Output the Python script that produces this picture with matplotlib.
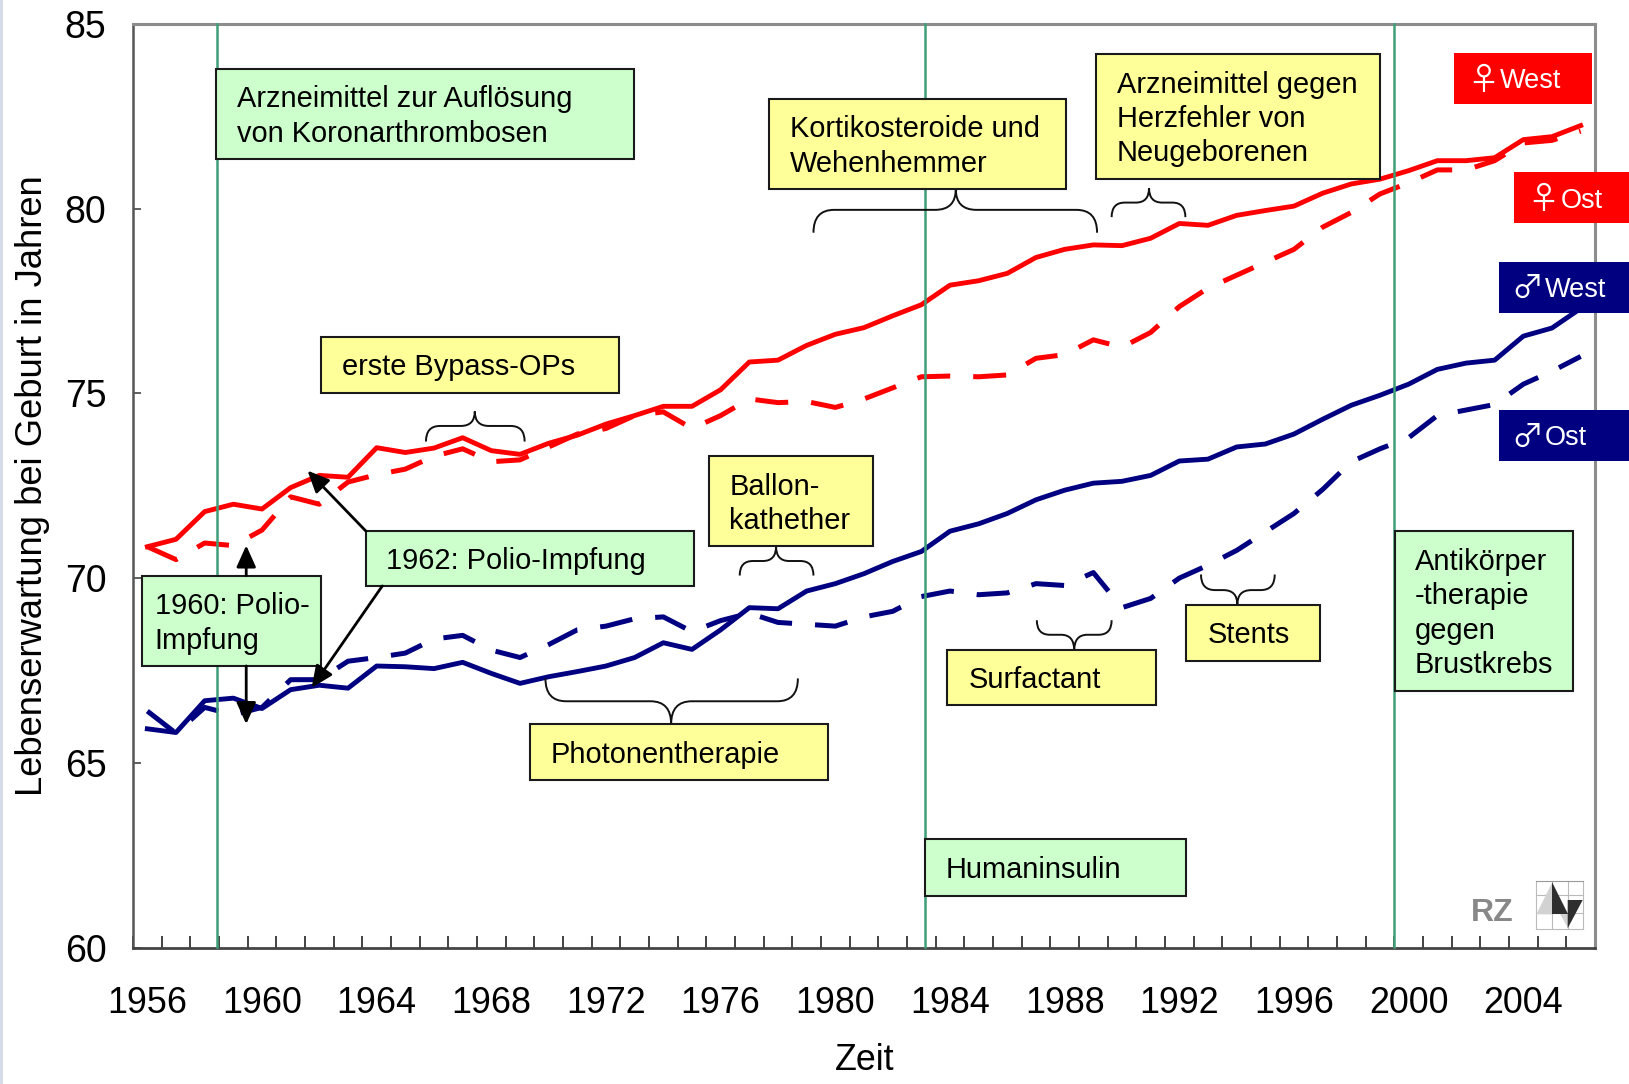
import matplotlib
matplotlib.use('Agg')
import matplotlib.pyplot as plt
import numpy as np
from matplotlib.patches import Rectangle, Polygon, PathPatch
from matplotlib.path import Path

plt.rcParams['font.family'] = ['Liberation Sans', 'DejaVu Sans']

years = np.arange(1956, 2007)
year_labels = np.arange(1956, 2005, 4)
west_f = [70.85, 71.05, 71.8, 72.0, 71.87, 72.45, 72.78, 72.73, 73.53, 73.4, 73.52, 73.8, 73.45,
          73.35, 73.65, 73.87, 74.17, 74.4, 74.65, 74.65, 75.1, 75.85, 75.9, 76.3, 76.6, 76.78,
          77.1, 77.4, 77.93, 78.05, 78.25, 78.68, 78.9, 79.02, 79.0, 79.2, 79.6, 79.55, 79.82,
          79.95, 80.07, 80.42, 80.67, 80.8, 81.03, 81.3, 81.3, 81.38, 81.87, 81.95, 82.25]
ost_f = [70.85, 70.5, 70.95, 70.88, 71.3, 72.2, 72.0, 72.6, 72.8, 72.95, 73.3, 73.5, 73.15,
         73.2, 73.55, 73.9, 74.05, 74.4, 74.5, 74.05, 74.4, 74.85, 74.75, 74.78, 74.62, 74.85,
         75.15, 75.45, 75.47, 75.45, 75.5, 75.95, 76.05, 76.45, 76.25, 76.65, 77.35, 77.85, 78.2,
         78.55, 78.9, 79.5, 79.9, 80.4, 80.7, 81.05, 81.05, 81.3, 81.78, 81.85, 82.1]
west_m = [65.92, 65.82, 66.68, 66.75, 66.47, 66.98, 67.1, 67.02, 67.62, 67.6, 67.55, 67.72, 67.42,
          67.15, 67.33, 67.47, 67.62, 67.85, 68.25, 68.07, 68.6, 69.2, 69.17, 69.65, 69.85, 70.12,
          70.45, 70.72, 71.27, 71.47, 71.75, 72.12, 72.38, 72.57, 72.62, 72.78, 73.17, 73.22, 73.55,
          73.63, 73.9, 74.3, 74.68, 74.95, 75.25, 75.65, 75.82, 75.9, 76.55, 76.77, 77.3]
ost_m = [66.4, 65.8, 66.5, 66.3, 66.5, 67.25, 67.25, 67.75, 67.85, 67.97, 68.35, 68.45, 68.05,
         67.85, 68.2, 68.6, 68.7, 68.9, 68.95, 68.55, 68.85, 69.05, 68.8, 68.75, 68.7, 68.95,
         69.1, 69.5, 69.65, 69.55, 69.6, 69.85, 69.8, 70.15, 69.2, 69.45, 70.0, 70.35, 70.75,
         71.25, 71.75, 72.4, 73.15, 73.5, 73.8, 74.4, 74.55, 74.7, 75.25, 75.6, 76.0]

RED = '#ff0000'
NAVY = '#000080'
GREEN = '#ccffcc'
YELLOW = '#ffff99'
S = 1629 / 1568  # annotation positions were read on the shrunk picture

fig = plt.figure(figsize=(16.29, 10.84), dpi=100)
ax = fig.add_axes([133 / 1629, 1 - 947.5 / 1084, 1462 / 1629, 923.5 / 1084])

# PLOT
dash = (0, (6.6, 4.6))
ax.plot(years, ost_m, color=NAVY, lw=3.6, linestyle=dash)
ax.plot(years, ost_f, color=RED, lw=3.6, linestyle=dash)
ax.plot(years, west_m, color=NAVY, lw=3.5)
ax.plot(years, west_f, color=RED, lw=3.5)

ax.set_xlim(1955.5, 2006.5)
ax.set_ylim(60, 85)
ax.set_yticks(np.arange(60, 86, 5))
ax.set_xticks(year_labels)
ax.set_xticks(np.arange(1955.5, 2007, 1), minor=True)
ax.tick_params(axis='x', which='major', length=0, labelsize=25.8, pad=28)
ax.tick_params(axis='x', which='minor', direction='in', length=8.5, width=1.2, color='#222222')
ax.tick_params(axis='y', direction='in', length=6, width=1.2, color='#444444', labelsize=27, pad=19)
for side in ['top', 'right']:
    ax.spines[side].set_color('#8c8c8c')
    ax.spines[side].set_linewidth(2.2)
ax.spines['left'].set_color('#555555')
ax.spines['left'].set_linewidth(1.8)
ax.spines['bottom'].set_color('#444444')
ax.spines['bottom'].set_linewidth(2.0)

# overlay in picture pixels for the boxes, braces and arrows
ov = fig.add_axes([0, 0, 1, 1])
ov.set_xlim(0, 1629)
ov.set_ylim(1084, 0)
ov.axis('off')
ov.patch.set_alpha(0)

ov.add_patch(Rectangle((0, 0), 3, 1084, color='#d5dbe8', lw=0))

for x in [208.5, 890, 1342]:
    ov.plot([x * S, x * S], [23 * S, 912 * S], color='#3f9f78', lw=1.8, zorder=1)


def box(x0, y0, x1, y1, color, text, tx=None):
    ov.add_patch(Rectangle((x0 * S, y0 * S), (x1 - x0) * S, (y1 - y0) * S, facecolor=color,
                           edgecolor='#1a1a1a', lw=1.5, zorder=3))
    ov.text((x0 + 20) * S if tx is None else tx * S, ((y0 + y1) / 2 + 2.5) * S, text, fontsize=20.9,
            ha='left', va='center', linespacing=1.29, color='black', zorder=4)


box(208, 66, 610, 153, GREEN, 'Arzneimittel zur Auflösung\nvon Koronarthrombosen')
box(740, 95, 1026, 182, YELLOW, 'Kortikosteroide und\nWehenhemmer')
box(1055, 52, 1328, 172, YELLOW, 'Arzneimittel gegen\nHerzfehler von\nNeugeborenen')
box(309, 324, 596, 378, YELLOW, 'erste Bypass-OPs')
box(682, 439, 840, 526, YELLOW, 'Ballon-\nkathether')
box(352, 511, 668, 564, GREEN, '1962: Polio-Impfung')
box(137, 554, 309, 641, GREEN, '1960: Polio-\nImpfung', tx=149)
box(510, 697, 797, 751, YELLOW, 'Photonentherapie')
box(912, 626, 1113, 679, YELLOW, 'Surfactant')
box(1142, 582, 1271, 636, YELLOW, 'Stents')
box(1343, 511, 1514, 665, GREEN, 'Antikörper\n-therapie\ngegen\nBrustkrebs', tx=1362)
box(890, 808, 1142, 862, GREEN, 'Humaninsulin')


def tag(x0, y0, x1, y1, color, symbol, text, sx, tx):
    ov.add_patch(Rectangle((x0 * S, y0 * S), (x1 - x0) * S, (y1 - y0) * S, facecolor=color, lw=0, zorder=3))
    ov.text(sx * S, ((y0 + y1) / 2 + 2) * S, symbol, fontsize=23, color='white', ha='center', va='center',
            zorder=4, family=['Noto Sans CJK JP', 'DejaVu Sans'])
    ov.text(tx * S, ((y0 + y1) / 2 + 2.5) * S, text, fontsize=19.5, color='white', ha='left', va='center', zorder=4)


tag(1400, 51, 1532, 100, RED, '♀', 'West', 1428, 1444)
tag(1457, 166, 1568, 215, RED, '♀', 'Ost', 1485, 1502)
tag(1443, 252, 1568, 301, NAVY, '♂', 'West', 1470, 1487)
tag(1443, 395, 1568, 444, NAVY, '♂', 'Ost', 1470, 1487)


def brace(x0, x1, xtip, yend, yshoulder, ytip):
    # curly brace from two ends to a tip
    r = abs(yshoulder - yend) * 0.9
    pts = [(x0, yend), (x0, yshoulder), (x0 + r, yshoulder),
           (xtip - r, yshoulder), (xtip, yshoulder), (xtip, ytip),
           (xtip, yshoulder), (xtip + r, yshoulder),
           (x1 - r, yshoulder), (x1, yshoulder), (x1, yend)]
    codes = [Path.MOVETO, Path.CURVE3, Path.CURVE3, Path.LINETO, Path.CURVE3, Path.CURVE3,
             Path.CURVE3, Path.CURVE3, Path.LINETO, Path.CURVE3, Path.CURVE3]
    pts = [(a * S, b * S) for a, b in pts]
    ov.add_patch(PathPatch(Path(pts, codes), fill=False, edgecolor='#111111', lw=1.4, zorder=2))


brace(410, 505, 457, 425, 410, 396)
brace(783, 1056, 920, 224, 202, 182)
brace(1070, 1141, 1106, 209, 195, 181)
brace(712, 783, 747, 554, 540, 526)
brace(525, 768, 646, 653, 675, 697)
brace(998, 1070, 1034, 597, 611, 626)
brace(1156, 1227, 1191, 553, 568, 582)

for start, end in [((237, 554), (237, 525)), ((237, 641), (237, 697)),
                   ((352, 511), (296, 453)), ((368, 564), (300, 662))]:
    ov.annotate('', xy=(end[0] * S, end[1] * S), xytext=(start[0] * S, start[1] * S), zorder=5,
                arrowprops=dict(arrowstyle='-|>,head_length=0.6,head_width=0.27', color='black',
                                lw=2, shrinkA=0, shrinkB=0, mutation_scale=22))

# logo
for gx in [1536.3, 1552.3, 1567.7, 1582.7]:
    ov.plot([gx, gx], [881.3, 928.7], color='#bbbbbb', lw=0.8, zorder=1)
for gy in [881.3, 895, 913, 928.7]:
    ov.plot([1536.3, 1582.7], [gy, gy], color='#999999' if gy < 890 else '#bbbbbb', lw=0.8, zorder=1)
ov.add_patch(Polygon([(1536.3, 914.3), (1552.3, 882.3), (1552.3, 914.3)], color='#d2d2d2', lw=0, zorder=2))
ov.add_patch(Polygon([(1560, 914.3), (1567.7, 914.3), (1567.7, 928.3)], color='#d2d2d2', lw=0, zorder=2))
ov.add_patch(Polygon([(1552.3, 882.3), (1552.3, 914.3), (1567.7, 914.3)], color='#2e2e2e', lw=0, zorder=2))
ov.add_patch(Polygon([(1567.7, 900), (1582.7, 900), (1567.7, 928.3)], color='#2e2e2e', lw=0, zorder=2))
ov.text(1492, 913, 'RZ', fontsize=23, fontweight='bold', color='#888888', ha='center', va='center')

ov.text(31 * S, 467 * S, 'Lebenserwartung bei Geburt in Jahren', fontsize=26.2, rotation=90,
        ha='center', va='center')
ov.text(832 * S, 1021 * S, 'Zeit', fontsize=25.8, ha='center', va='center')

plt.savefig('out.png', dpi=100)
